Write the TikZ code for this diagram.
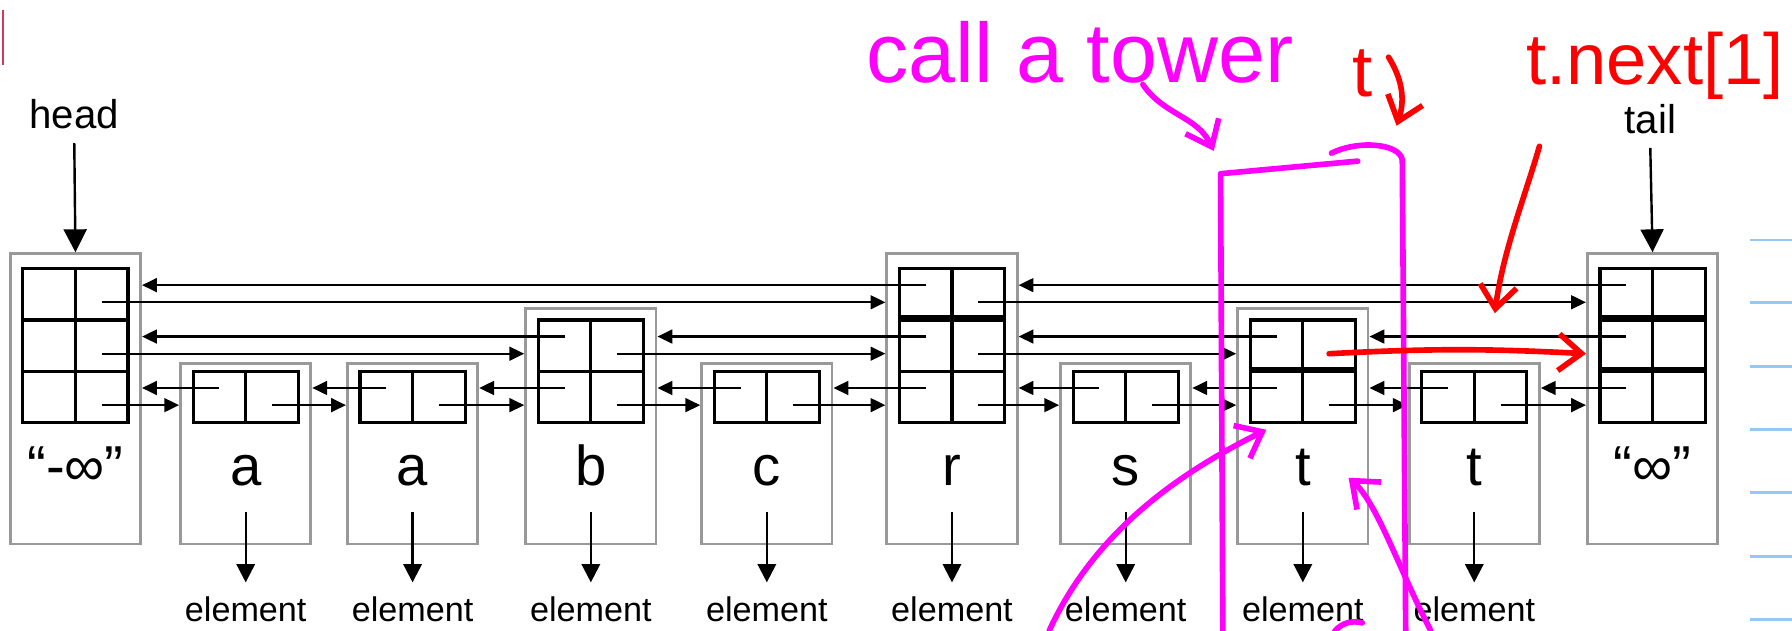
\documentclass[tikz,border=0pt]{standalone}
\usepackage{fontspec}
\setmainfont{Liberation Sans}
\usetikzlibrary{arrows.meta}

\definecolor{pen}{RGB}{255,0,255}
\definecolor{redpen}{RGB}{255,0,0}
\definecolor{rule}{RGB}{150,200,245}
\definecolor{margin}{RGB}{205,60,95}

\tikzset{
  cell/.style={draw,line width=0.8pt,minimum width=0.46cm,minimum height=0.45cm,inner sep=0pt},
  tower/.style={draw=black!40,line width=0.7pt,minimum width=1.14cm,inner sep=0pt},
  link/.style={line width=0.6pt,-{Triangle[length=1.3mm,width=1.2mm]}},
  down/.style={line width=0.6pt,-{Triangle[length=1.6mm,width=1.6mm]}},
  pointer/.style={line width=0.6pt,-{Triangle[length=2mm,width=2mm]}},
  key/.style={font=\fontsize{14}{14}\selectfont,anchor=base},
  elem/.style={font=\fontsize{8.5}{9}\selectfont},
  marker/.style={line width=1.4pt,line cap=round,line join=round},
  barb/.style={-{Straight Barb[length=2mm,width=3.2mm]}},
}

\begin{document}
\begin{tikzpicture}[x=0.01cm,y=-0.01cm]
  \useasboundingbox (0,0) rectangle (1568,552);
  \coordinate (keyline) at (0,448);

  % towers and their cells
  \foreach \n/\x/\h/\k in {ninf/66/3/{“-∞”}, a1/215/1/a, a2/361/1/a, b/517/2/b,
      c/671/1/c, r/833/3/r, s/985/1/s, t1/1140/2/t, t2/1290/1/t, pinf/1446/3/{“∞”}} {
    \pgfmathsetmacro\bh{(158+48*(\h-1))/100}
    \pgfmathsetmacro\by{476-(158+48*(\h-1))/2}
    \node[tower,minimum height=\bh cm] (\n) at (\x,\by) {};
    \foreach \j in {1,...,\h} {
      \pgfmathsetmacro\cy{347.5-45*(\j-1)}
      \node[cell] (\n-\j-l) at (\x-23,\cy) {};
      \node[cell] (\n-\j-r) at (\x+23,\cy) {};
    }
    \node[key] (k-\n) at (\x,425) {\k};
  }
  \foreach \n/\j in {r/2, t1/1, pinf/1, pinf/2}
    \draw[line width=1.5pt] (\n-\j-l.north west) -- (\n-\j-r.north east);

  % elements
  \foreach \n in {a1,a2,b,c,r,s,t1,t2} {
    \path (\n |- keyline) ++(0,85) node[elem] (e-\n) {element};
    \draw[down] (\n |- keyline) -- (e-\n.north);
  }

  \node[font=\fontsize{10}{10}\selectfont] (head) at (65,100) {head};
  \node[font=\fontsize{10}{10}\selectfont] (tail) at (1444,104) {tail};
  \draw[pointer] (head.south) -- (ninf.north);
  \draw[pointer] (tail.south) -- (pinf.north);

  % prev / next links
  \foreach \a/\b/\j in {ninf/a1/1, a1/a2/1, a2/b/1, b/c/1, c/r/1, r/s/1, s/t1/1,
      t1/t2/1, t2/pinf/1, ninf/b/2, b/r/2, r/t1/2, ninf/r/3, r/pinf/3} {
    \draw[link] ([yshift=0.08cm]\b-\j-l.center) coordinate (p) -- (\a.east |- p);
    \draw[link] ([yshift=-0.07cm]\a-\j-r.center) coordinate (q) -- (\b.west |- q);
  }
  \draw[link] ([yshift=0.08cm]pinf-2-l.center) coordinate (p) -- (t1.east |- p);

  % hand notes
  \node[text=pen,font=\fontsize{21}{21}\selectfont] (call) at (945,46) {call a tower};
  \draw[marker,pen,barb] (1000,74) to[out=-55,in=115] (1062,132);
  \draw[marker,pen] (1070,552) -- (1068,152) -- (1188,141);
  \draw[marker,pen] (1165,134) .. controls (1190,122) and (1225,126) .. (1227,140) -- (1230,552);
  \draw[marker,pen,barb] (918,552) .. controls (960,460) and (1040,410) .. (1108,376);
  \draw[marker,pen,barb] (1252,552) .. controls (1225,500) and (1205,440) .. (1180,418);
  \draw[marker,pen] (1168,552) to[bend left=30] (1192,545);

  \node[text=redpen,font=\fontsize{18}{18}\selectfont] (tred) at (1192,64) {t};
  \draw[marker,redpen,barb] (1215,50) to[bend left=25] (1222,110);
  \node[text=redpen,font=\fontsize{18}{18}\selectfont] (nxt) at (1448,58) {t.next[1]};
  \draw[marker,redpen,barb] (1347,128) .. controls (1335,170) and (1315,220) .. (1308,274);
  \draw[marker,redpen,barb] ([yshift=-0.07cm]t1-2-r.center) coordinate (q)
    to[bend left=3] (pinf.west |- q);

  % page rules
  \foreach \y in {210,265,321,376,431,487,542}
    \draw[rule,line width=0.7pt] (1531,\y) -- (1568,\y);
  \draw[margin,line width=0.5pt] (3,9) -- (3,57);
\end{tikzpicture}
\end{document}
